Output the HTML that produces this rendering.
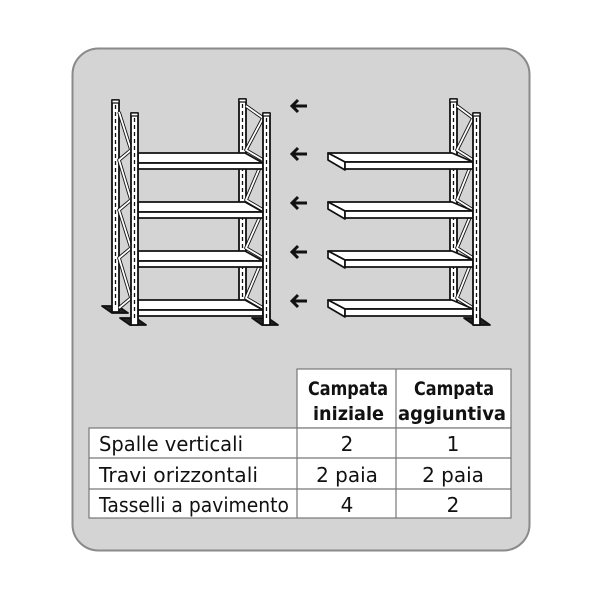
<!DOCTYPE html>
<html><head><style>
body{margin:0;background:#fff;}
svg{display:block}
text{font-family:"DejaVu Sans","Liberation Sans",sans-serif;fill:#111}
</style></head><body>
<svg width="600" height="600" viewBox="0 0 600 600">
<rect x="72.5" y="48.5" width="457" height="502" rx="26" fill="#d4d4d4" stroke="#8a8a8a" stroke-width="2"/>
<defs>
<g id="up"><rect x="0" y="0" width="7" height="212" fill="#fff" stroke="#111" stroke-width="1.8"/><line x1="3.5" y1="5" x2="3.5" y2="208" stroke="#111" stroke-width="1.3" stroke-dasharray="4,3"/><rect x="0" y="0" width="7" height="3" fill="#fff" stroke="#111" stroke-width="1.2"/></g>
<g id="foot"><polygon points="-2,0 14,0 24,7 8,7" fill="#222"/></g>
</defs>
<g fill="#fff" stroke="#111" stroke-width="1.7" stroke-linejoin="round">
<use href="#foot" x="104" y="306"/>
<use href="#up" x="112" y="100"/>
<polyline fill="none" stroke-width="3.6" stroke="#111" points="119,112 131,150 119,160 131,200 119,210 131,248 119,258 131,298 119,308"/>
<polyline fill="none" stroke-width="1.8" stroke="#fff" points="119,112 131,150 119,160 131,200 119,210 131,248 119,258 131,298 119,308"/>
<use href="#up" x="239" y="99"/>
<polyline fill="none" stroke-width="3.6" stroke="#111" points="246,106 263,118 246,150 263,160 246,200 263,210 246,248 263,258 246,298 263,308"/>
<polyline fill="none" stroke-width="1.8" stroke="#fff" points="246,106 263,118 246,150 263,160 246,200 263,210 246,248 263,258 246,298 263,308"/>
<g id="sl">
<polygon points="138,153 245,153 263,163 138,163"/><rect x="138" y="163" width="125" height="6"/>
</g>
<use href="#sl" y="49"/><use href="#sl" y="98"/><use href="#sl" y="147"/>
<use href="#foot" x="122" y="318"/>
<use href="#up" x="131" y="113"/>
<use href="#foot" x="254" y="318"/>
<use href="#up" x="263" y="113"/>
<use href="#up" x="450" y="99"/>
<polyline fill="none" stroke-width="3.6" stroke="#111" points="457,106 473,118 457,150 473,160 457,200 473,210 457,248 473,258 457,298 473,308"/>
<polyline fill="none" stroke-width="1.8" stroke="#fff" points="457,106 473,118 457,150 473,160 457,200 473,210 457,248 473,258 457,298 473,308"/>
<g id="sr">
<polygon points="328,153 452,153 473,162 345,162"/><polygon points="328,153 345,162 345,170 328,160"/><rect x="345" y="162" width="128" height="7"/>
</g>
<use href="#sr" y="49"/><use href="#sr" y="98"/><use href="#sr" y="147"/>
<use href="#foot" x="466" y="318"/>
<use href="#up" x="473" y="113"/>
</g>
<g stroke="#111" stroke-width="3" fill="none">
<g id="ar"><line x1="292" y1="106" x2="307" y2="106"/><polyline points="298,100 292,106 298,112"/></g>
<use href="#ar" y="48"/><use href="#ar" y="97"/><use href="#ar" y="146"/><use href="#ar" y="195"/>
</g>
<g fill="#fff" stroke="#777" stroke-width="1.2">
<rect x="297" y="369" width="214" height="59"/>
<rect x="89" y="428" width="422" height="90"/>
</g>
<g stroke="#777" stroke-width="1.2">
<line x1="396" y1="369" x2="396" y2="518"/>
<line x1="297" y1="428" x2="297" y2="518"/>
<line x1="89" y1="458" x2="511" y2="458"/>
<line x1="89" y1="489" x2="511" y2="489"/>
</g>
<g font-weight="bold" font-size="19" font-family="Liberation Sans,sans-serif">
<text x="308" y="395" textLength="80" lengthAdjust="spacingAndGlyphs">Campata</text>
<text x="313" y="420" textLength="71" lengthAdjust="spacingAndGlyphs">iniziale</text>
<text x="414" y="395" textLength="80" lengthAdjust="spacingAndGlyphs">Campata</text>
<text x="398" y="420" textLength="108" lengthAdjust="spacingAndGlyphs">aggiuntiva</text>
</g>
<g font-size="20">
<text x="99" y="451" textLength="144" lengthAdjust="spacingAndGlyphs">Spalle verticali</text>
<text x="99" y="482" textLength="159" lengthAdjust="spacingAndGlyphs">Travi orizzontali</text>
<text x="99" y="512" textLength="190" lengthAdjust="spacingAndGlyphs">Tasselli a pavimento</text>
</g>
<g font-size="20" text-anchor="middle">
<text x="347" y="451">2</text><text x="453" y="451">1</text>
<text x="347" y="482">2 paia</text><text x="453" y="482">2 paia</text>
<text x="347" y="512">4</text><text x="453" y="512">2</text>
</g>
</svg>
</body></html>
